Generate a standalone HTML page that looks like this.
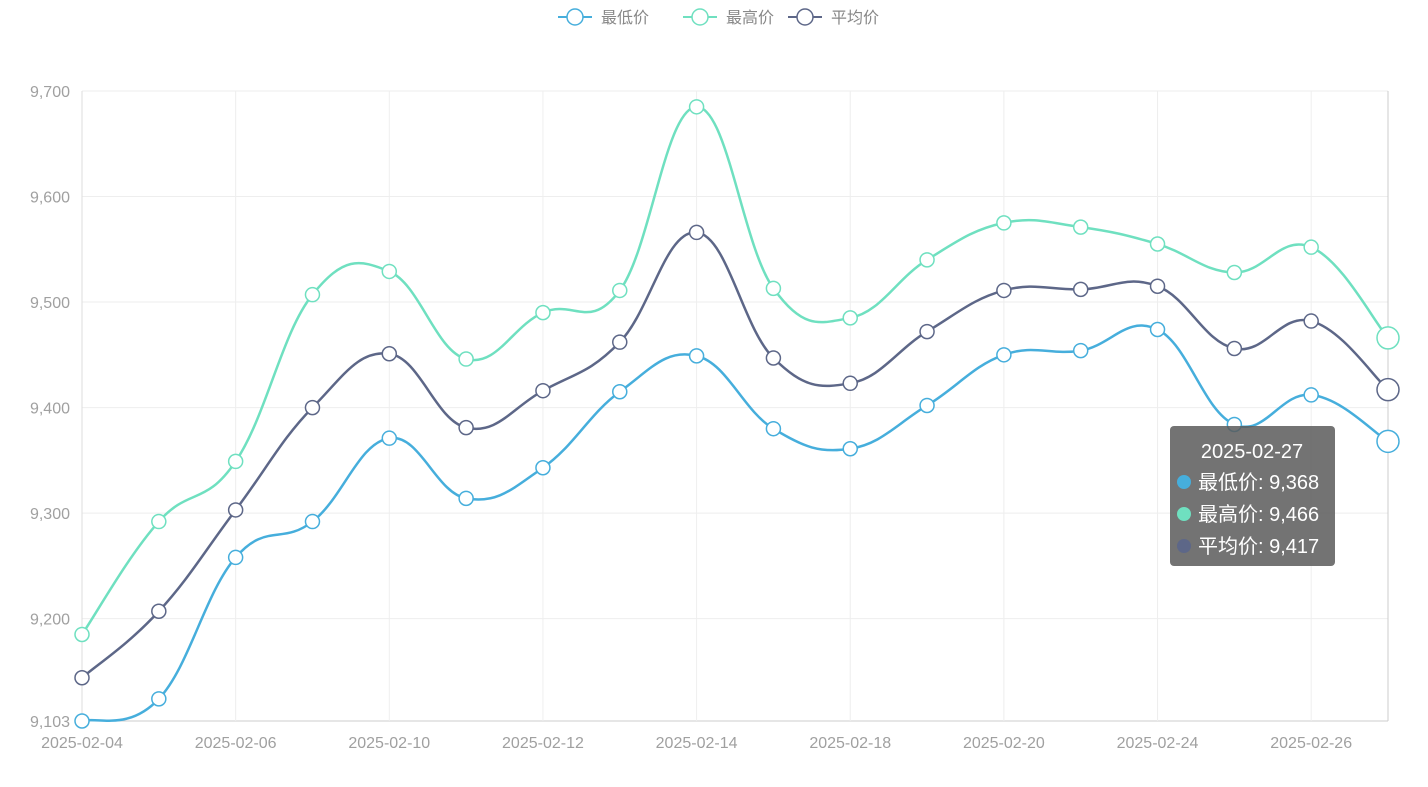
<!DOCTYPE html>
<html><head><meta charset="utf-8"><style>
body{margin:0;background:#fff;font-family:"Liberation Sans","Noto Sans CJK SC",sans-serif}
svg{display:block}
</style></head><body>
<svg id="chart" width="1428" height="787" xmlns="http://www.w3.org/2000/svg"></svg>
<script>
const categories=["2025-02-04","2025-02-05","2025-02-06","2025-02-07","2025-02-10","2025-02-11","2025-02-12","2025-02-13","2025-02-14","2025-02-17","2025-02-18","2025-02-19","2025-02-20","2025-02-21","2025-02-24","2025-02-25","2025-02-26","2025-02-27"];
const minPrice=[9103,9124,9258,9292,9371,9314,9343,9415,9449,9380,9361,9402,9450,9454,9474,9384,9412,9368];
const maxPrice=[9185,9292,9349,9507,9529,9446,9490,9511,9685,9513,9485,9540,9575,9571,9555,9528,9552,9466];
const avgPrice=[9144,9207,9303,9400,9451,9381,9416,9462,9566,9447,9423,9472,9511,9512,9515,9456,9482,9417];
const yTicks=[9103,9200,9300,9400,9500,9600,9700];
const seriesNames=["最低价","最高价","平均价"];
const colors=["#46aedc","#6fe0c0","#5d6788"];

const NS="http://www.w3.org/2000/svg";
const svg=document.getElementById('chart');
const L=82,R=1388,T=91,B=721,yMin=9103,yMax=9700;
const xs=i=>L+(R-L)*i/(categories.length-1);
const ys=v=>B-(v-yMin)/(yMax-yMin)*(B-T);
function mk(tag,attrs,parent){const e=document.createElementNS(NS,tag);for(const k in attrs)e.setAttribute(k,attrs[k]);(parent||svg).appendChild(e);return e;}
function fmt(v){return v.toLocaleString('en-US');}

// grid
yTicks.forEach(t=>{
  const g=mk('line',{x1:L,x2:R,y1:ys(t),y2:ys(t),stroke:t===yMin?'#ccc':'#eee'});
  
  
  const tx=mk('text',{x:L-12,y:ys(t)+6,'text-anchor':'end','font-size':16,fill:'#a0a0a0'});
  tx.textContent=fmt(t);
  
  
});
categories.forEach((c,i)=>{
  if(i%2!==0)return;
  const g=mk('line',{x1:xs(i),x2:xs(i),y1:T,y2:B,stroke:'#eee'});
  
  
  const tx=mk('text',{x:xs(i),y:B+27,'text-anchor':'middle','font-size':16,fill:'#a0a0a0'});
  tx.textContent=c;
  
  
});
const ax=mk('line',{x1:L,x2:L,y1:T,y2:B,stroke:'#ddd'});


const ax2=mk('line',{x1:R,x2:R,y1:T,y2:B,stroke:'#ccc'});



function smoothPath(pts){
  let d=`M${pts[0][0]},${pts[0][1]}`;
  const s=0.2;
  for(let i=0;i<pts.length-1;i++){
    const p0=pts[i-1]||pts[i],p1=pts[i],p2=pts[i+1],p3=pts[i+2]||p2;
    const c1=[p1[0]+(p2[0]-p0[0])*s,p1[1]+(p2[1]-p0[1])*s];
    const c2=[p2[0]-(p3[0]-p1[0])*s,p2[1]-(p3[1]-p1[1])*s];
    d+=` C${c1[0]},${c1[1]} ${c2[0]},${c2[1]} ${p2[0]},${p2[1]}`;
  }
  return d;
}
[minPrice,maxPrice,avgPrice].forEach((data,si)=>{
  const pts=data.map((v,i)=>[xs(i),ys(v)]);
  const p=mk('path',{d:smoothPath(pts),fill:'none',stroke:colors[si],'stroke-width':2.5});
  
  
  pts.forEach((q,i)=>{
    const last=i===pts.length-1;
    const c=mk('circle',{cx:q[0],cy:q[1],r:last?11:7,fill:'#fff',stroke:colors[si],'stroke-width':1.5});
    
    
  });
});

// legend
const lg=[[558,'最低价'],[683,'最高价'],[788,'平均价']];
lg.forEach((l,i)=>{
  const g=mk('g',{});
  
  
  mk('line',{x1:l[0],x2:l[0]+34,y1:17,y2:17,stroke:colors[i],'stroke-width':2},g);
  mk('circle',{cx:l[0]+17,cy:17,r:8,fill:'#fff',stroke:colors[i],'stroke-width':1.5},g);
  const t=mk('text',{x:l[0]+43,y:23,'font-size':16,fill:'#888'},g);
  t.textContent=l[1];
});

// tooltip
const last=categories.length-1;
const tg=mk('g',{});


mk('rect',{x:1170,y:426,width:165,height:140,rx:4,fill:'rgba(90,90,90,0.85)'},tg);
const tt=mk('text',{x:1252,y:458,'text-anchor':'middle','font-size':20,fill:'#fff'},tg);
tt.textContent=categories[last];
[minPrice,maxPrice,avgPrice].forEach((d,i)=>{
  mk('circle',{cx:1184,cy:482+i*32,r:7,fill:colors[i]},tg);
  const t=mk('text',{x:1198,y:489+i*32,'font-size':20,fill:'#fff'},tg);
  t.textContent=seriesNames[i]+': '+fmt(d[last]);
});
</script>
</body></html>
